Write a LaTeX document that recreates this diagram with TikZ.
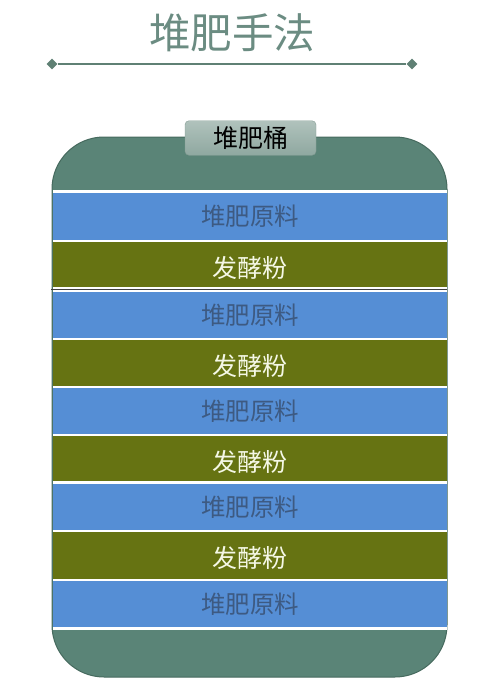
\documentclass[tikz,border=0pt]{standalone}
\usepackage{fontspec}
\newfontfamily\cjk{Noto Sans CJK SC}
\definecolor{titlecol}{HTML}{6B8C82}
\definecolor{rulecol}{HTML}{5F8074}
\definecolor{binfill}{HTML}{5A8477}
\definecolor{bindraw}{HTML}{466A5E}
\definecolor{tabtop}{HTML}{B0C2BC}
\definecolor{tabbot}{HTML}{8FA8A0}
\definecolor{tabdraw}{HTML}{859C94}
\definecolor{bluefill}{HTML}{558ED5}
\definecolor{olivefill}{HTML}{667312}
\definecolor{bluetext}{HTML}{3D5A82}
\definecolor{olivetext}{HTML}{F5F8E6}
\newcommand{\lowtext}[1]{\raisebox{-3pt}[\height][\depth]{#1}}
\tikzset{
  rawstripe/.style={draw=none, inner sep=0pt, minimum width=394.6pt, anchor=north},
  bluestripe/.style={rawstripe, fill=bluefill, text=bluetext, font=\cjk\fontsize{24.5}{26}\selectfont},
  olivestripe/.style={rawstripe, fill=olivefill, text=olivetext, font=\cjk\fontsize{25}{27}\selectfont},
  diam/.style={diamond, fill=rulecol, inner sep=0pt, minimum size=11pt},
}
\usetikzlibrary{shapes.geometric}
\begin{document}
\begin{tikzpicture}[x=1pt,y=-1pt]
\useasboundingbox (0,0) rectangle (498,693);
% title
\node[text=titlecol, font=\cjk\fontsize{41.5}{44}\selectfont, inner sep=0pt] (title) at (232,33) {堆肥手法};
\node[diam] (dl) at (52,64) {};
\node[diam] (dr) at (412,64) {};
\draw[rulecol, line width=1.2pt] (dl) -- (dr);
% bin body
\draw[fill=binfill, draw=bindraw, line width=1pt, rounded corners=52pt] (52,137) rectangle (447,677);
\fill[white] (52.7,190) rectangle (447.3,629.5);
% tab
\node[draw=tabdraw, top color=tabtop, bottom color=tabbot, rounded corners=4pt,
      minimum width=131pt, minimum height=34.5pt, inner sep=0pt,
      font=\cjk\fontsize{25}{27}\selectfont, text=black] (tab) at (250.5,138) {堆肥桶};
% stripes
\node[bluestripe, minimum height=47pt] (b1) at (250,193) {堆肥原料};
\node[olivestripe, minimum height=45pt] (o1) at (250,242) {\lowtext{发酵粉}};
\node[bluestripe, minimum height=45.5pt] (b2) at (250,292) {堆肥原料};
\node[olivestripe, minimum height=45.5pt] (o2) at (250,340) {\lowtext{发酵粉}};
\node[bluestripe, minimum height=45.5pt] (b3) at (250,388) {堆肥原料};
\node[olivestripe, minimum height=45pt] (o3) at (250,436) {\lowtext{发酵粉}};
\node[bluestripe, minimum height=45.5pt] (b4) at (250,484) {堆肥原料};
\node[olivestripe, minimum height=46.5pt] (o4) at (250,532) {\lowtext{发酵粉}};
\node[bluestripe, minimum height=46pt] (b5) at (250,581) {堆肥原料};
% thin dark divider
\coordinate (divl) at (51,289.3);
\coordinate (divr) at (447.3,289.3);
\draw[black!75, line width=0.8pt] (divl) -- (divr);
\end{tikzpicture}
\end{document}
